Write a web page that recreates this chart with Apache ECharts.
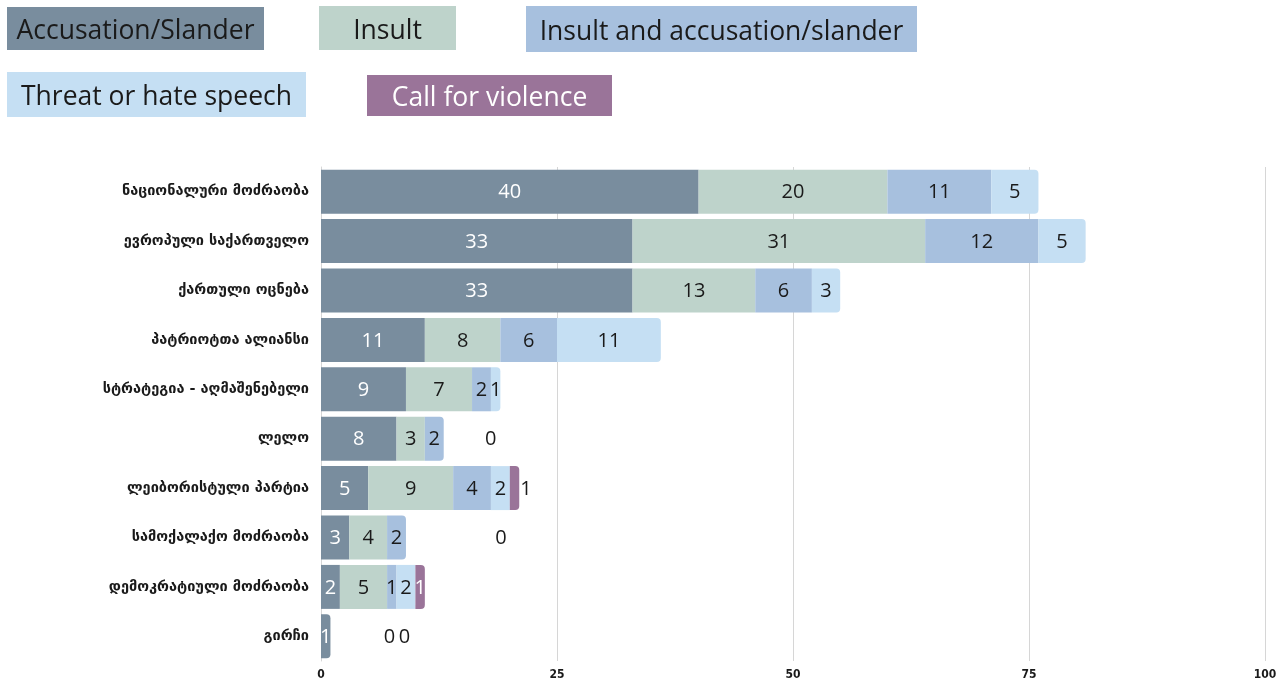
<!DOCTYPE html>
<html>
<head>
<meta charset="utf-8">
<script src="https://cdn.jsdelivr.net/npm/echarts@6/dist/echarts.min.js"></script>
<style>
html,body{margin:0;padding:0;background:#fff;}
#chart{width:1288px;height:684px;}
</style>
</head>
<body>
<div id="chart"></div>
<script>
const categories = [
  "ნაციონალური მოძრაობა",
  "ევროპული საქართველო",
  "ქართული ოცნება",
  "პატრიოტთა ალიანსი",
  "სტრატეგია - აღმაშენებელი",
  "ლელო",
  "ლეიბორისტული პარტია",
  "სამოქალაქო მოძრაობა",
  "დემოკრატიული მოძრაობა",
  "გირჩი"
];
const seriesNames = ["Accusation/Slander", "Insult", "Insult and accusation/slander", "Threat or hate speech", "Call for violence"];
const accusation = [40, 33, 33, 11, 9, 8, 5, 3, 2, 1];
const insult     = [20, 31, 13, 8, 7, 3, 9, 4, 5, 0];
const insultAcc  = [11, 12, 6, 6, 2, 2, 4, 2, 1, 0];
const threat     = [5, 5, 3, 11, 1, 0, 2, 0, 2, 0];
const violence   = [0, 0, 0, 0, 0, 0, 1, 0, 1, 0];
const xTicks = [0, 25, 50, 75, 100];

const values = [accusation, insult, insultAcc, threat, violence];
const colors = ["#798d9e", "#bed3cb", "#a7c0de", "#c5dff3", "#9a7499"];
const labelColors = ["#ffffff", "#1a1a1a", "#1a1a1a", "#1a1a1a", "#ffffff"];

// zero-value labels that are shown in the reference: [seriesIndex, rowIndex, pixel offset]
const zeroLabels = [[3, 5, 47], [3, 7, 95], [2, 9, 59], [3, 9, 74]];

function lastNonZero(row) {
  let last = -1;
  for (let s = 0; s < values.length; s++) if (values[s][row] > 0) last = s;
  return last;
}

const series = values.map((arr, s) => ({
  name: seriesNames[s],
  type: 'bar',
  stack: 'total',
  barCategoryGap: '11%',
  itemStyle: { color: colors[s] },
  label: {
    show: true,
    position: 'inside',
    offset: [0, 1],
    color: labelColors[s],
    fontFamily: 'Open Sans',
    fontSize: 20
  },
  emphasis: { disabled: true },
  data: arr.map((v, row) => {
    const item = { value: v };
    if (lastNonZero(row) === s) item.itemStyle = { borderRadius: [0, 4, 4, 0] };
    if (v === 0) {
      const z = zeroLabels.find(z => z[0] === s && z[1] === row);
      if (z) {
        item.label = { show: true, position: 'inside', offset: [z[2], 1], color: '#1a1a1a' };
      } else {
        item.label = { show: false };
      }
    }
    if (s === 4 && v > 0 && row === 6) {
      item.label = { show: true, position: 'right', distance: 1, offset: [0, 1], color: '#1a1a1a' };
    }
    return item;
  })
}));

const legendFont = 26.5;
const legendFamily = 'Open Sans';
const measureCtx = document.createElement('canvas').getContext('2d');
measureCtx.font = legendFont + 'px "' + legendFamily + '"';

const legendBoxes = [
  { left: 7, top: 7, width: 257, height: 43, color: '#1a1a1a' },
  { left: 319, top: 6, width: 137, height: 44, color: '#1a1a1a' },
  { left: 526, top: 6, width: 391, height: 46, color: '#1a1a1a' },
  { left: 7, top: 72, width: 299, height: 45, color: '#1a1a1a' },
  { left: 367, top: 75, width: 245, height: 41, color: '#ffffff' }
];

const legends = legendBoxes.map((b, i) => {
  const tw = measureCtx.measureText(seriesNames[i]).width;
  const padL = Math.max(0, (b.width - tw) / 2);
  const padR = Math.max(0, b.width - tw - padL);
  return {
    show: true,
    left: b.left - 5,
    top: b.top,
    padding: 0,
    itemWidth: 0,
    itemHeight: 0,
    icon: 'none',
    selectedMode: false,
    formatter: name => '{t|' + name + '}',
    data: [{
      name: seriesNames[i],
      textStyle: {
        rich: {
          t: {
            color: b.color,
            fontFamily: legendFamily,
            fontSize: legendFont,
            backgroundColor: colors[i],
            height: b.height - 6,
            lineHeight: b.height - 6,
            padding: [6, padR, 0, padL]
          }
        }
      }
    }]
  };
});

const chart = echarts.init(document.getElementById('chart'), null, { renderer: 'canvas' });
chart.setOption({
  animation: false,
  backgroundColor: '#ffffff',
  legend: legends,
  grid: { left: 321, right: 23, top: 167, bottom: 23, containLabel: false, outerBoundsMode: 'none' },
  xAxis: {
    type: 'value',
    min: xTicks[0],
    max: xTicks[xTicks.length - 1],
    interval: xTicks[1] - xTicks[0],
    axisLine: { show: false },
    axisTick: { show: false },
    splitLine: { show: true, lineStyle: { color: '#d6d6d6', width: 1 } },
    axisLabel: {
      color: '#1a1a1a',
      fontFamily: 'DejaVu Sans Condensed, DejaVu Sans',
      fontWeight: 'bold',
      fontSize: 12,
      margin: 8,
      formatter: v => String(v)
    }
  },
  yAxis: {
    type: 'category',
    inverse: true,
    data: categories,
    axisLine: { show: true, lineStyle: { color: '#d6d6d6' } },
    axisTick: { show: false },
    axisLabel: {
      color: '#1a1a1a',
      fontFamily: 'DejaVu Sans',
      fontWeight: 'bold',
      fontSize: 14.5,
      margin: 12
    }
  },
  series: series
});
</script>
</body>
</html>
